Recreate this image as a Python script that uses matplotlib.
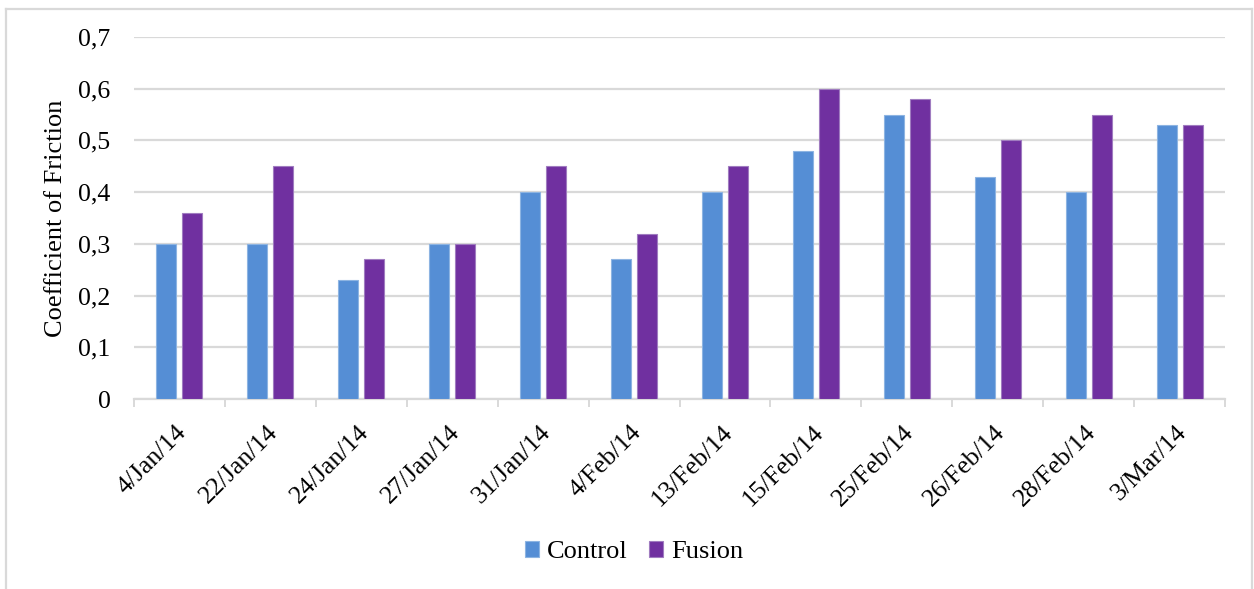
import numpy as np
import matplotlib.pyplot as plt
import matplotlib.transforms as mtrans
from matplotlib.lines import Line2D

plt.rcParams['font.family'] = ['Liberation Serif', 'DejaVu Serif']

dates = ['4/Jan/14', '22/Jan/14', '24/Jan/14', '27/Jan/14', '31/Jan/14', '4/Feb/14',
         '13/Feb/14', '15/Feb/14', '25/Feb/14', '26/Feb/14', '28/Feb/14', '3/Mar/14']
control = [0.30, 0.30, 0.23, 0.30, 0.40, 0.27, 0.40, 0.48, 0.55, 0.43, 0.40, 0.53]
fusion = [0.36, 0.45, 0.27, 0.30, 0.45, 0.32, 0.45, 0.60, 0.58, 0.50, 0.55, 0.53]

c_blue = '#558ED5'
c_purple = '#7030A0'
grid_c = '#D9D9D9'

fig = plt.figure(figsize=(12.54, 5.89), dpi=100)
ax = fig.add_axes([134 / 1254, 1 - 399 / 589, (1225 - 134) / 1254, (399 - 37) / 589])

x = np.arange(len(dates))
w = 0.22
ax.bar(x - 0.143, control, w, color=c_blue, edgecolor='#8DB4E2', linewidth=0.8, label='Control', zorder=3)
ax.bar(x + 0.143, fusion, w, color=c_purple, edgecolor='#A07CC0', linewidth=0.8, label='Fusion', zorder=3)

ax.set_xlim(-0.5, len(dates) - 0.5)
ax.set_ylim(0, 0.7)
yt = np.arange(0, 0.71, 0.1)
ax.set_yticks(yt)
ax.set_yticklabels(['0'] + [('%.1f' % v).replace('.', ',') for v in yt[1:]], fontsize=18.5)
ax.yaxis.grid(True, color=grid_c, linewidth=1.6, zorder=0)
ax.tick_params(axis='y', length=0, pad=17)

# x labels drawn as rotated texts under each category
ax.set_xticks(x)
ax.set_xticklabels([])
shift = mtrans.ScaledTranslation(-4 / 100, -22 / 100, fig.dpi_scale_trans)
for xi, d in zip(x, dates):
    ax.text(xi, 0, d, transform=ax.get_xaxis_transform() + shift, rotation=45,
            ha='right', va='top', rotation_mode='anchor', fontsize=18.5)
ax.set_xticks(np.arange(-0.5, len(dates), 1), minor=True)
ax.tick_params(axis='x', which='major', length=0)
ax.tick_params(axis='x', which='minor', length=6, width=1.4, color=grid_c)

for s in ['top', 'right', 'left']:
    ax.spines[s].set_visible(False)
ax.spines['bottom'].set_color(grid_c)
ax.spines['bottom'].set_linewidth(1.6)

ax.set_ylabel('Coefficient of Friction', fontsize=19, labelpad=8)

fig.legend(loc='center', bbox_to_anchor=(634 / 1254, 1 - 552 / 589), ncol=2, frameon=False,
           fontsize=19, handlelength=0.55, handleheight=0.55, handletextpad=0.3, columnspacing=0.8)

# outer chart border
L, R, T = 6 / 1254, 1252 / 1254, 1 - 9 / 589
for xs, ys in [([L, L], [0, T]), ([L, R], [T, T]), ([R, R], [T, 0])]:
    fig.add_artist(Line2D(xs, ys, transform=fig.transFigure, color=grid_c, linewidth=1.6))

plt.savefig('out.png', dpi=100)
